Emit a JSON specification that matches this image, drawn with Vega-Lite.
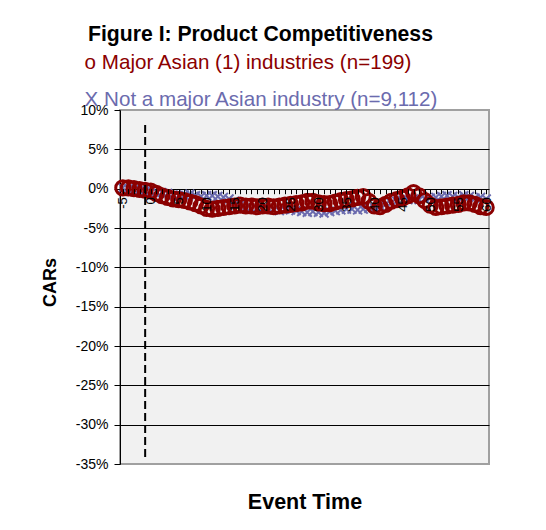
{
  "$schema": "https://vega.github.io/schema/vega-lite/v6.json",
  "width": 369,
  "height": 354,
  "autosize": "none",
  "padding": {"left": 120, "top": 110, "right": 57, "bottom": 66},
  "background": "white",
  "config": {
    "font": "Liberation Sans",
    "view": {"fill": "#f1f1f1", "stroke": "#a0a0a0", "strokeWidth": 2}
  },
  "title": {
    "text": "Figure I: Product Competitiveness",
    "fontSize": 21.2,
    "fontWeight": "bold",
    "color": "black",
    "anchor": "start",
    "frame": "group",
    "dx": -32,
    "offset": 8
  },
  "datasets": {
    "cars": [
      {"t": -5, "series": "o Major Asian (1) industries (n=199)", "car": 0.1},
      {"t": -4, "series": "o Major Asian (1) industries (n=199)", "car": 0.1},
      {"t": -3, "series": "o Major Asian (1) industries (n=199)", "car": 0.0},
      {"t": -2, "series": "o Major Asian (1) industries (n=199)", "car": -0.1},
      {"t": -1, "series": "o Major Asian (1) industries (n=199)", "car": -0.2},
      {"t": 0, "series": "o Major Asian (1) industries (n=199)", "car": -0.3},
      {"t": 1, "series": "o Major Asian (1) industries (n=199)", "car": -0.6},
      {"t": 2, "series": "o Major Asian (1) industries (n=199)", "car": -0.9},
      {"t": 3, "series": "o Major Asian (1) industries (n=199)", "car": -1.1},
      {"t": 4, "series": "o Major Asian (1) industries (n=199)", "car": -1.3},
      {"t": 5, "series": "o Major Asian (1) industries (n=199)", "car": -1.4},
      {"t": 6, "series": "o Major Asian (1) industries (n=199)", "car": -1.5},
      {"t": 7, "series": "o Major Asian (1) industries (n=199)", "car": -1.7},
      {"t": 8, "series": "o Major Asian (1) industries (n=199)", "car": -1.9},
      {"t": 9, "series": "o Major Asian (1) industries (n=199)", "car": -2.2},
      {"t": 10, "series": "o Major Asian (1) industries (n=199)", "car": -2.5},
      {"t": 11, "series": "o Major Asian (1) industries (n=199)", "car": -2.6},
      {"t": 12, "series": "o Major Asian (1) industries (n=199)", "car": -2.5},
      {"t": 13, "series": "o Major Asian (1) industries (n=199)", "car": -2.4},
      {"t": 14, "series": "o Major Asian (1) industries (n=199)", "car": -2.3},
      {"t": 15, "series": "o Major Asian (1) industries (n=199)", "car": -2.2},
      {"t": 16, "series": "o Major Asian (1) industries (n=199)", "car": -2.1},
      {"t": 17, "series": "o Major Asian (1) industries (n=199)", "car": -2.2},
      {"t": 18, "series": "o Major Asian (1) industries (n=199)", "car": -2.2},
      {"t": 19, "series": "o Major Asian (1) industries (n=199)", "car": -2.3},
      {"t": 20, "series": "o Major Asian (1) industries (n=199)", "car": -2.2},
      {"t": 21, "series": "o Major Asian (1) industries (n=199)", "car": -2.2},
      {"t": 22, "series": "o Major Asian (1) industries (n=199)", "car": -2.3},
      {"t": 23, "series": "o Major Asian (1) industries (n=199)", "car": -2.2},
      {"t": 24, "series": "o Major Asian (1) industries (n=199)", "car": -2.1},
      {"t": 25, "series": "o Major Asian (1) industries (n=199)", "car": -2.0},
      {"t": 26, "series": "o Major Asian (1) industries (n=199)", "car": -1.9},
      {"t": 27, "series": "o Major Asian (1) industries (n=199)", "car": -1.8},
      {"t": 28, "series": "o Major Asian (1) industries (n=199)", "car": -1.6},
      {"t": 29, "series": "o Major Asian (1) industries (n=199)", "car": -1.6},
      {"t": 30, "series": "o Major Asian (1) industries (n=199)", "car": -1.8},
      {"t": 31, "series": "o Major Asian (1) industries (n=199)", "car": -1.9},
      {"t": 32, "series": "o Major Asian (1) industries (n=199)", "car": -1.9},
      {"t": 33, "series": "o Major Asian (1) industries (n=199)", "car": -1.7},
      {"t": 34, "series": "o Major Asian (1) industries (n=199)", "car": -1.5},
      {"t": 35, "series": "o Major Asian (1) industries (n=199)", "car": -1.4},
      {"t": 36, "series": "o Major Asian (1) industries (n=199)", "car": -1.3},
      {"t": 37, "series": "o Major Asian (1) industries (n=199)", "car": -1.1},
      {"t": 38, "series": "o Major Asian (1) industries (n=199)", "car": -1.0},
      {"t": 39, "series": "o Major Asian (1) industries (n=199)", "car": -1.6},
      {"t": 40, "series": "o Major Asian (1) industries (n=199)", "car": -2.2},
      {"t": 41, "series": "o Major Asian (1) industries (n=199)", "car": -2.3},
      {"t": 42, "series": "o Major Asian (1) industries (n=199)", "car": -2.0},
      {"t": 43, "series": "o Major Asian (1) industries (n=199)", "car": -1.6},
      {"t": 44, "series": "o Major Asian (1) industries (n=199)", "car": -1.4},
      {"t": 45, "series": "o Major Asian (1) industries (n=199)", "car": -1.2},
      {"t": 46, "series": "o Major Asian (1) industries (n=199)", "car": -0.9},
      {"t": 47, "series": "o Major Asian (1) industries (n=199)", "car": -0.5},
      {"t": 48, "series": "o Major Asian (1) industries (n=199)", "car": -0.9},
      {"t": 49, "series": "o Major Asian (1) industries (n=199)", "car": -1.5},
      {"t": 50, "series": "o Major Asian (1) industries (n=199)", "car": -2.1},
      {"t": 51, "series": "o Major Asian (1) industries (n=199)", "car": -2.4},
      {"t": 52, "series": "o Major Asian (1) industries (n=199)", "car": -2.3},
      {"t": 53, "series": "o Major Asian (1) industries (n=199)", "car": -2.2},
      {"t": 54, "series": "o Major Asian (1) industries (n=199)", "car": -2.1},
      {"t": 55, "series": "o Major Asian (1) industries (n=199)", "car": -2.0},
      {"t": 56, "series": "o Major Asian (1) industries (n=199)", "car": -1.8},
      {"t": 57, "series": "o Major Asian (1) industries (n=199)", "car": -1.8},
      {"t": 58, "series": "o Major Asian (1) industries (n=199)", "car": -2.0},
      {"t": 59, "series": "o Major Asian (1) industries (n=199)", "car": -2.3},
      {"t": 60, "series": "o Major Asian (1) industries (n=199)", "car": -2.4},
      {"t": -5, "series": "X Not a major Asian industry (n=9,112)", "car": 0.1},
      {"t": -4, "series": "X Not a major Asian industry (n=9,112)", "car": 0.0},
      {"t": -3, "series": "X Not a major Asian industry (n=9,112)", "car": -0.1},
      {"t": -2, "series": "X Not a major Asian industry (n=9,112)", "car": -0.2},
      {"t": -1, "series": "X Not a major Asian industry (n=9,112)", "car": -0.3},
      {"t": 0, "series": "X Not a major Asian industry (n=9,112)", "car": -0.3},
      {"t": 1, "series": "X Not a major Asian industry (n=9,112)", "car": -0.4},
      {"t": 2, "series": "X Not a major Asian industry (n=9,112)", "car": -0.5},
      {"t": 3, "series": "X Not a major Asian industry (n=9,112)", "car": -0.6},
      {"t": 4, "series": "X Not a major Asian industry (n=9,112)", "car": -0.8},
      {"t": 5, "series": "X Not a major Asian industry (n=9,112)", "car": -0.9},
      {"t": 6, "series": "X Not a major Asian industry (n=9,112)", "car": -0.8},
      {"t": 7, "series": "X Not a major Asian industry (n=9,112)", "car": -0.7},
      {"t": 8, "series": "X Not a major Asian industry (n=9,112)", "car": -0.9},
      {"t": 9, "series": "X Not a major Asian industry (n=9,112)", "car": -1.0},
      {"t": 10, "series": "X Not a major Asian industry (n=9,112)", "car": -0.9},
      {"t": 11, "series": "X Not a major Asian industry (n=9,112)", "car": -0.9},
      {"t": 12, "series": "X Not a major Asian industry (n=9,112)", "car": -1.0},
      {"t": 13, "series": "X Not a major Asian industry (n=9,112)", "car": -1.1},
      {"t": 14, "series": "X Not a major Asian industry (n=9,112)", "car": -1.3},
      {"t": 15, "series": "X Not a major Asian industry (n=9,112)", "car": -1.6},
      {"t": 16, "series": "X Not a major Asian industry (n=9,112)", "car": -2.0},
      {"t": 17, "series": "X Not a major Asian industry (n=9,112)", "car": -2.4},
      {"t": 18, "series": "X Not a major Asian industry (n=9,112)", "car": -2.6},
      {"t": 19, "series": "X Not a major Asian industry (n=9,112)", "car": -2.5},
      {"t": 20, "series": "X Not a major Asian industry (n=9,112)", "car": -2.6},
      {"t": 21, "series": "X Not a major Asian industry (n=9,112)", "car": -2.5},
      {"t": 22, "series": "X Not a major Asian industry (n=9,112)", "car": -2.7},
      {"t": 23, "series": "X Not a major Asian industry (n=9,112)", "car": -2.8},
      {"t": 24, "series": "X Not a major Asian industry (n=9,112)", "car": -2.6},
      {"t": 25, "series": "X Not a major Asian industry (n=9,112)", "car": -2.7},
      {"t": 26, "series": "X Not a major Asian industry (n=9,112)", "car": -2.8},
      {"t": 27, "series": "X Not a major Asian industry (n=9,112)", "car": -2.9},
      {"t": 28, "series": "X Not a major Asian industry (n=9,112)", "car": -3.0},
      {"t": 29, "series": "X Not a major Asian industry (n=9,112)", "car": -2.9},
      {"t": 30, "series": "X Not a major Asian industry (n=9,112)", "car": -3.0},
      {"t": 31, "series": "X Not a major Asian industry (n=9,112)", "car": -3.1},
      {"t": 32, "series": "X Not a major Asian industry (n=9,112)", "car": -2.9},
      {"t": 33, "series": "X Not a major Asian industry (n=9,112)", "car": -2.8},
      {"t": 34, "series": "X Not a major Asian industry (n=9,112)", "car": -2.7},
      {"t": 35, "series": "X Not a major Asian industry (n=9,112)", "car": -2.6},
      {"t": 36, "series": "X Not a major Asian industry (n=9,112)", "car": -2.6},
      {"t": 37, "series": "X Not a major Asian industry (n=9,112)", "car": -2.7},
      {"t": 38, "series": "X Not a major Asian industry (n=9,112)", "car": -2.6},
      {"t": 39, "series": "X Not a major Asian industry (n=9,112)", "car": -2.5},
      {"t": 40, "series": "X Not a major Asian industry (n=9,112)", "car": -2.4},
      {"t": 41, "series": "X Not a major Asian industry (n=9,112)", "car": -2.2},
      {"t": 42, "series": "X Not a major Asian industry (n=9,112)", "car": -2.0},
      {"t": 43, "series": "X Not a major Asian industry (n=9,112)", "car": -1.8},
      {"t": 44, "series": "X Not a major Asian industry (n=9,112)", "car": -1.6},
      {"t": 45, "series": "X Not a major Asian industry (n=9,112)", "car": -1.5},
      {"t": 46, "series": "X Not a major Asian industry (n=9,112)", "car": -1.4},
      {"t": 47, "series": "X Not a major Asian industry (n=9,112)", "car": -1.3},
      {"t": 48, "series": "X Not a major Asian industry (n=9,112)", "car": -1.4},
      {"t": 49, "series": "X Not a major Asian industry (n=9,112)", "car": -1.3},
      {"t": 50, "series": "X Not a major Asian industry (n=9,112)", "car": -1.2},
      {"t": 51, "series": "X Not a major Asian industry (n=9,112)", "car": -1.1},
      {"t": 52, "series": "X Not a major Asian industry (n=9,112)", "car": -1.0},
      {"t": 53, "series": "X Not a major Asian industry (n=9,112)", "car": -0.9},
      {"t": 54, "series": "X Not a major Asian industry (n=9,112)", "car": -1.0},
      {"t": 55, "series": "X Not a major Asian industry (n=9,112)", "car": -1.1},
      {"t": 56, "series": "X Not a major Asian industry (n=9,112)", "car": -0.9},
      {"t": 57, "series": "X Not a major Asian industry (n=9,112)", "car": -1.0},
      {"t": 58, "series": "X Not a major Asian industry (n=9,112)", "car": -1.2},
      {"t": 59, "series": "X Not a major Asian industry (n=9,112)", "car": -1.1},
      {"t": 60, "series": "X Not a major Asian industry (n=9,112)", "car": -1.3}
    ],
    "marker": [{"t": -1, "car": 8.1, "car2": -34.2}]
  },
  "encoding": {
    "x": {
      "field": "t", "type": "quantitative",
      "scale": {"domain": [-5.5, 60.5], "nice": false, "zero": false},
      "axis": {
        "values": [-5,-4,-3,-2,-1,0,1,2,3,4,5,6,7,8,9,10,11,12,13,14,15,16,17,18,19,20,21,22,23,24,25,26,27,28,29,30,31,32,33,34,35,36,37,38,39,40,41,42,43,44,45,46,47,48,49,50,51,52,53,54,55,56,57,58,59,60],
        "labelExpr": "datum.value % 5 === 0 ? '' + datum.value : ''",
        "labelAngle": -90,
        "labelFontSize": 13,
        "labelColor": "black",
        "labelOverlap": false,
        "labelPadding": 3,
        "tickSize": 5,
        "tickColor": "black",
        "tickWidth": 1,
        "domain": false,
        "grid": false,
        "zindex": 1,
        "offset": -275.3,
        "title": "Event Time",
        "titleFontSize": 21.5,
        "titleFontWeight": "bold",
        "titleColor": "black",
        "titleBaseline": "alphabetic",
        "titleY": 320
      }
    },
    "y": {
      "field": "car", "type": "quantitative",
      "scale": {"domain": [-35, 10], "nice": false},
      "axis": {
        "values": [-35,-30,-25,-20,-15,-10,-5,0,5,10],
        "labelExpr": "datum.value + '%'",
        "labelFontSize": 14,
        "labelColor": "black",
        "labelOverlap": false,
        "labelPadding": 6,
        "tickSize": 6,
        "tickColor": "black",
        "domainColor": "black",
        "grid": true,
        "gridColor": {"condition": {"test": "datum.value === 10 || datum.value === -35", "value": "#a0a0a0"}, "value": "black"},
        "gridOpacity": 1,
        "title": "CARs",
        "titleFontSize": 18,
        "titleFontWeight": "bold",
        "titleColor": "black",
        "titlePadding": 16,
        "titleY": 172
      }
    }
  },
  "layer": [
    {
      "data": {"name": "cars"},
      "transform": [{"filter": {"field": "series", "equal": "X Not a major Asian industry (n=9,112)"}}],
      "mark": {"type": "point", "shape": "M-1,-1L1,1M-1,1L1,-1", "filled": false, "strokeWidth": 2, "size": 80, "opacity": 1},
      "encoding": {
        "stroke": {
          "field": "series", "type": "nominal",
          "scale": {"domain": ["X Not a major Asian industry (n=9,112)"], "range": ["#6B6BAE"]},
          "legend": {
            "orient": "none",
            "legendX": -56,
            "legendY": -20,
            "title": null,
            "labelFontSize": 20.6,
            "labelColor": "#6B6BAE",
            "labelLimit": 600,
            "symbolSize": 0,
            "symbolOpacity": 0,
            "symbolStrokeWidth": 0,
            "labelOffset": 0
          }
        }
      }
    },
    {
      "data": {"name": "cars"},
      "transform": [{"filter": {"field": "series", "equal": "o Major Asian (1) industries (n=199)"}}],
      "mark": {"type": "point", "shape": "circle", "filled": false, "strokeWidth": 3, "size": 200, "opacity": 1},
      "encoding": {
        "color": {
          "field": "series", "type": "nominal",
          "scale": {"domain": ["o Major Asian (1) industries (n=199)"], "range": ["#8B0000"]},
          "legend": {
            "orient": "none",
            "legendX": -56,
            "legendY": -57,
            "title": null,
            "labelFontSize": 20.6,
            "labelColor": "#8B0000",
            "labelLimit": 600,
            "symbolSize": 0,
            "symbolOpacity": 0,
            "symbolStrokeWidth": 0,
            "labelOffset": 0
          }
        }
      }
    },
    {
      "data": {"name": "marker"},
      "mark": {"type": "rule", "color": "black", "strokeWidth": 2, "strokeDash": [8, 4]},
      "encoding": {
        "y2": {"field": "car2"}
      }
    }
  ]
}
